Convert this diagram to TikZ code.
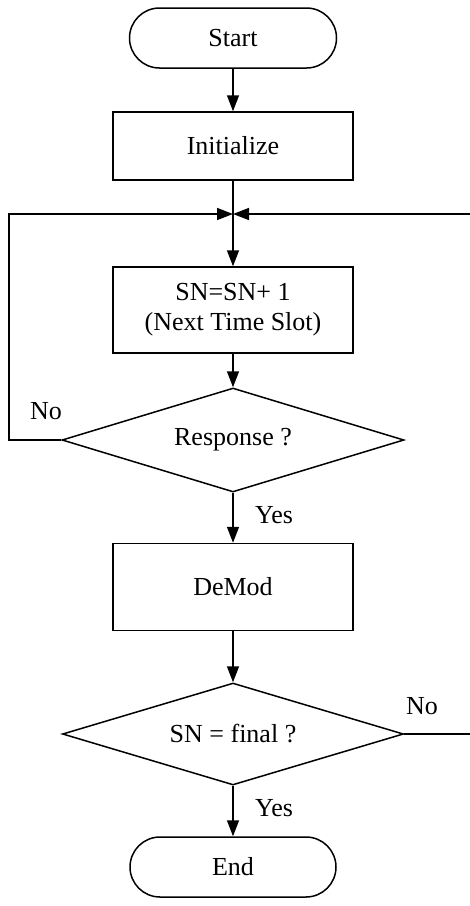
\documentclass[tikz,border=0pt]{standalone}
\usepackage{fontspec}
\setmainfont{Liberation Serif}
\usetikzlibrary{arrows.meta,shapes.geometric}
\begin{document}
\begin{tikzpicture}[x=1pt,y=-1pt,
  every node/.style={font=\fontsize{26}{32}\selectfont},
  line/.style={line width=1.5pt},
  flow/.style={line, -{Triangle[length=16pt,width=12pt]}},
  terminal/.style={draw, line width=1.5pt, rectangle, rounded corners=30pt,
    minimum width=207pt, minimum height=60pt, inner sep=0pt},
  process/.style={draw, line width=1.5pt, rectangle, minimum width=240pt,
    inner sep=0pt, align=center},
  decision/.style={draw, line width=1.5pt, diamond, aspect=3.3, inner sep=0pt,
    minimum width=342pt, minimum height=104pt},
  tag/.style={inner sep=0pt}]
\useasboundingbox (0,0) rectangle (470,906);

\node[terminal] (start) at (233,38) {Start};
\node[process, minimum height=68pt] (init) at (233,146) {Initialize};
\coordinate (join) at (233,214);
\node[process, minimum height=86pt] (slot) at (233,310)
  {SN=SN+ 1\\[-2pt](Next Time Slot)};
\node[decision] (resp) at (233,440) {Response ?};
\node[process, minimum height=87pt] (demod) at (233,587) {DeMod};
\node[decision, minimum width=341pt, minimum height=102pt] (final) at (233,734) {SN = final ?};
\node[terminal, minimum width=206pt] (stop) at (233,867) {End};

\coordinate (lbot) at (9,440);
\coordinate (ltop) at (9,214);
\coordinate (rtop) at (470,214);
\coordinate (rbot) at (470,734);

\draw[flow] (start) -- (init);
\draw[line] (init) -- (join);
\draw[flow] (join) -- (slot);
\draw[flow] (slot) -- (resp);
\draw[flow] (resp) -- (demod);
\draw[flow] (demod) -- (final);
\draw[flow] (final) -- (stop);
\draw[flow] (resp.west) -- (lbot) -- (ltop) -- (join);
\draw[flow] (rtop) -- (join);
\draw[line] (final.east) -- (rbot);

\node[tag] (no1) at (46,411) {No};
\node[tag] (yes1) at (274,515) {Yes};
\node[tag] (no2) at (422,706) {No};
\node[tag] (yes2) at (274,808) {Yes};
\end{tikzpicture}
\end{document}
